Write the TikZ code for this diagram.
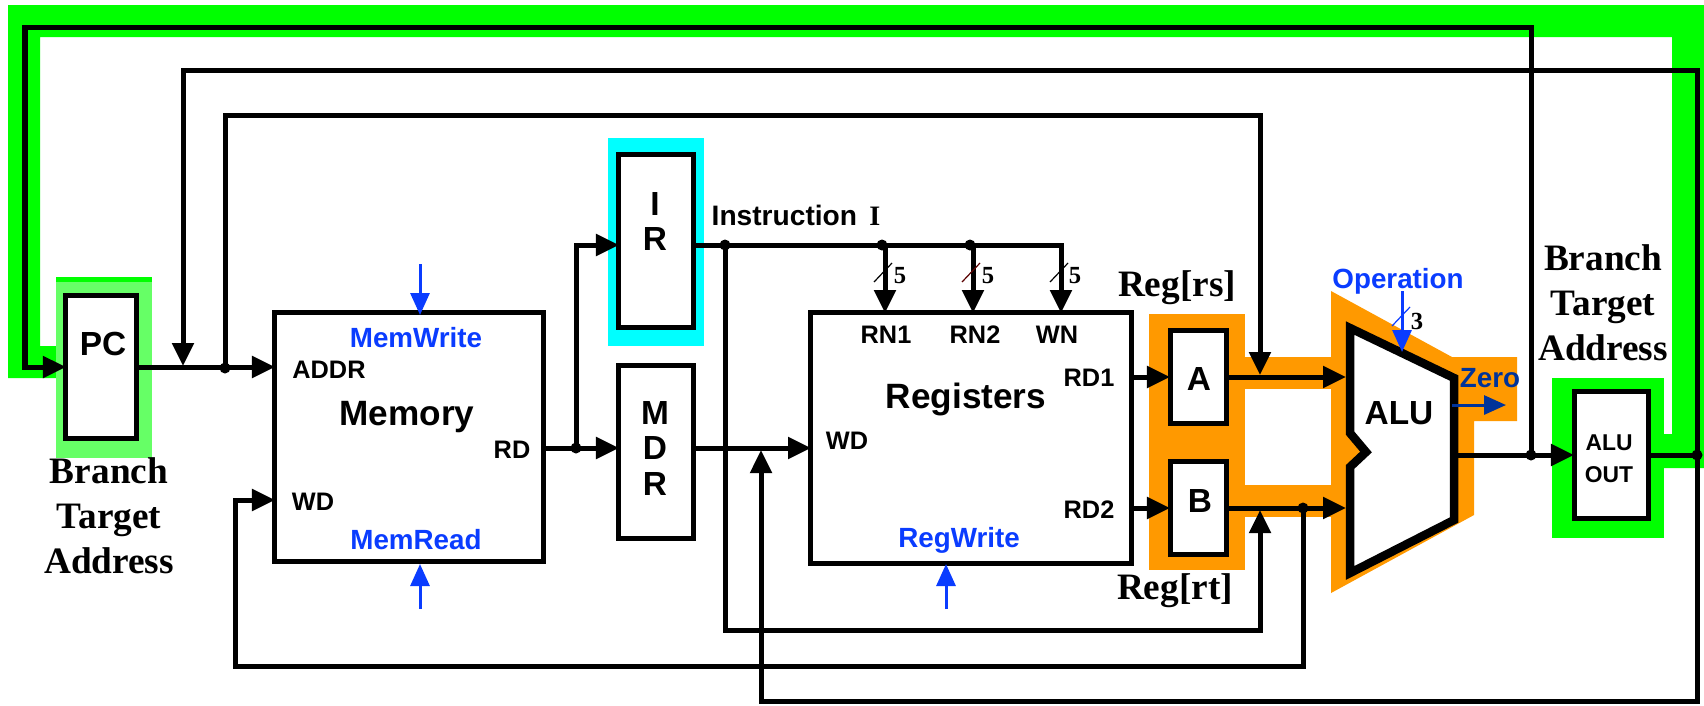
\documentclass[tikz,border=0pt]{standalone}
\usepackage{fontspec}
\setmainfont{Liberation Sans}
\newfontfamily\timesfont{Liberation Serif}
\usetikzlibrary{arrows.meta}
\definecolor{mygreen}{RGB}{0,255,0}
\definecolor{mylight}{RGB}{102,255,102}
\definecolor{mycyan}{RGB}{0,255,255}
\definecolor{myorange}{RGB}{255,153,0}
\definecolor{myblue}{RGB}{10,60,255}
\definecolor{mynavy}{RGB}{0,51,153}
\definecolor{myred}{RGB}{90,0,0}
\tikzset{
  wire/.style={line width=0.05cm, line join=miter},
  tip/.style={-{Triangle[length=0.23cm,width=0.21cm]}},
  ctl/.style={line width=0.03cm, color=myblue, -{Triangle[length=0.22cm,width=0.19cm]}},
  latch/.style={draw, fill=white, line width=0.05cm, outer sep=0pt, inner sep=0pt},
  dot/.style={circle, fill=black, inner sep=0pt, minimum size=0.11cm},
  port/.style={inner sep=0pt, font=\bfseries\fontsize{7.2}{8}\selectfont},
  unit/.style={inner sep=0pt, font=\bfseries\fontsize{10}{11}\selectfont},
  letter/.style={inner sep=0pt, font=\bfseries\fontsize{9.5}{10}\selectfont},
  signal/.style={inner sep=0pt, text=myblue, font=\bfseries\fontsize{7.9}{9}\selectfont},
  note/.style={inner sep=0pt, align=center, font=\timesfont\bfseries\fontsize{10.6}{12.8}\selectfont},
  width/.style={inner sep=0pt, font=\timesfont\fontsize{7}{8}\selectfont}
}

\begin{document}
\begin{tikzpicture}[x=0.01cm,y=-0.01cm]
\path[use as bounding box, fill=white] (0,0) rectangle (1704,705);

\fill[color=mygreen] (8,5) -- (1704,5) -- (1704,468) -- (1552,468) -- (1552,434) -- (1672,434) -- (1672,37) -- (40,37) -- (40,346) -- (60,346) -- (60,378) -- (8,378) -- cycle;
\fill[color=mylight] (56,277) rectangle +(96,181);
\fill[color=mygreen] (56,277) rectangle +(96,5);
\fill[color=mygreen] (1552,378) rectangle +(112,160);
\fill[color=mycyan] (608,138) rectangle +(96,208);
\fill[color=myorange] (1149,314) rectangle +(96,256);
\fill[color=myorange] (1244,357) rectangle +(90,32);
\fill[color=myorange] (1244,485) rectangle +(90,32);
\fill[color=myorange] (1331,291) -- (1452,357) -- (1517,357) -- (1517,421) -- (1474,421) -- (1474,515) -- (1331,593) -- cycle;

\node[latch, minimum width=0.70cm, minimum height=1.42cm] (PC) at (101,367) {};
\node[latch, minimum width=2.68cm, minimum height=2.48cm] (Memory) at (409,437) {};
\node[latch, minimum width=0.75cm, minimum height=1.72cm] (IR) at (656,241) {};
\node[latch, minimum width=0.75cm, minimum height=1.73cm] (MDR) at (656,452) {};
\node[latch, minimum width=3.21cm, minimum height=2.50cm] (Registers) at (971,438) {};
\node[latch, minimum width=0.56cm, minimum height=0.92cm] (A) at (1198,377) {};
\node[latch, minimum width=0.56cm, minimum height=0.92cm] (B) at (1198,508) {};
\node[latch, minimum width=0.74cm, minimum height=1.26cm] (ALUOUT) at (1611,455) {};
\draw[latch, line width=0.085cm, line join=miter] (1350,328) -- (1454,378) -- (1454,520) -- (1350,573) -- (1350,467) -- (1366,452) -- (1350,433) -- cycle;

\node[dot] (jpc) at (225,368) {};
\node[dot] (jsplit) at (576,448) {};
\node[dot] (jins) at (725,245) {};
\node[dot] (jrnone) at (882,245) {};
\node[dot] (jrntwo) at (970,245) {};
\node[dot] (jb) at (1303,508) {};
\node[dot] (jalu) at (1531,455) {};
\node[dot] (jout) at (1697,455) {};

\coordinate (ctop) at (25,27);
\coordinate (cmid) at (183,70);
\coordinate (cpcin) at (183,366);
\coordinate (cabove) at (1260,115);
\coordinate (cain) at (1260,375);
\coordinate (cblow) at (1260,630);
\coordinate (cbin) at (1260,510);
\coordinate (cwd) at (235,666);
\coordinate (memaddr) at (275,367);
\coordinate (memwd) at (275,500);
\coordinate (memrd) at (543,448);
\coordinate (mdrin) at (619,448);
\coordinate (mdrout) at (694,448);
\coordinate (irin) at (619,245);
\coordinate (irout) at (694,245);
\coordinate (regwd) at (811,448);
\coordinate (rnone) at (885,313);
\coordinate (rntwo) at (973,313);
\coordinate (wnin) at (1061,313);
\coordinate (rdone) at (1132,377);
\coordinate (rdtwo) at (1132,508);
\coordinate (alua) at (1346,377);
\coordinate (alub) at (1346,508);
\coordinate (aluy) at (1454,455);
\coordinate (cbottom) at (761,701);
\coordinate (wdup) at (761,450);

\draw[wire, tip] (jalu.center) |- (ctop) |- (PC.west);
\draw[wire, tip] (jout.center) |- (cmid) -- (cpcin);
\draw[wire, tip] (PC.east) -- (memaddr);
\draw[wire, tip] (jpc.center) |- (cabove) -- (cain);
\draw[wire, tip] (jb.center) |- (cwd) |- (memwd);
\draw[wire, tip] (memrd) -- (mdrin);
\draw[wire, tip] (jsplit.center) |- (irin);
\draw[wire, tip] (mdrout) -- (regwd);
\draw[wire, tip] (irout) -| (wnin);
\draw[wire, tip] (jrnone.center) ++(3,0) -- (rnone);
\draw[wire, tip] (jrntwo.center) ++(3,0) -- (rntwo);
\draw[wire, tip] (jins.center) |- (cblow) -- (cbin);
\draw[wire, tip] (rdone) -- (A.west);
\draw[wire, tip] (rdtwo) -- (B.west);
\draw[wire, tip] (A.east) -- (alua);
\draw[wire, tip] (B.east) -- (alub);
\draw[wire, tip] (aluy) -- (ALUOUT.west);
\draw[wire] (ALUOUT.east) -- (jout.center);
\draw[wire, tip] (jout.center) |- (cbottom) -- (wdup);

\draw[ctl] (420,264) -- (420,315);
\draw[ctl] (420,609) -- (420,564);
\draw[ctl] (946,609) -- (946,564);
\draw[ctl] (1402,291) -- (1402,352);
\draw[ctl, color=mynavy] (1452,405) -- (1506,405);

\foreach \x/\c in {885/black, 973/myred, 1061/black}
  \draw[color=\c, line width=0.012cm] (\x-11,282) -- (\x+7,263);
\draw[color=myblue, line width=0.012cm] (1392,326) -- (1410,307);

\node[width] (wone) at (900,276) {\bfseries 5};
\node[width] (wtwo) at (988,276) {\bfseries 5};
\node[width] (wthree) at (1075,276) {\bfseries 5};
\node[width] (wop) at (1417,321) {\bfseries 3};

\node[letter] (tPC) at (103,344) {PC};
\node[letter] (tI) at (655,204) {I};
\node[letter] (tR) at (655,239) {R};
\node[letter] (tM) at (655,413) {M};
\node[letter] (tD) at (655,448) {D};
\node[letter] (tRR) at (655,484) {R};
\node[letter] (tA) at (1199,379) {A};
\node[letter] (tB) at (1200,501) {B};
\node[letter] (tALU) at (1399,413) {ALU};
\node[unit] (tMemory) at (407,417) {Memory};
\node[unit] (tRegisters) at (966,399) {Registers};

\node[port] (pADDR) at (329,370) {ADDR};
\node[port] (pWD) at (313,502) {WD};
\node[port] (pRD) at (512,450) {RD};
\node[port] (pRN1) at (886,335) {RN1};
\node[port] (pRN2) at (975,335) {RN2};
\node[port] (pWN) at (1057,335) {WN};
\node[port] (pRD1) at (1089,378) {RD1};
\node[port] (pRD2) at (1089,510) {RD2};
\node[port] (pRWD) at (847,441) {WD};
\node[port, font=\bfseries\fontsize{6.5}{7.6}\selectfont, align=center] (pOUT) at (1609,459) {ALU\\[1.5pt]OUT};

\node[signal] (sMW) at (416,338) {MemWrite};
\node[signal] (sMR) at (416,540) {MemRead};
\node[signal] (sRW) at (959,540) {RegWrite};
\node[signal] (sOp) at (1398,281) {Operation};
\node[signal, text=mynavy] (sZ) at (1490,378) {Zero};

\node[inner sep=0pt, anchor=west, font=\bfseries\fontsize{8}{9}\selectfont] (tIns) at (711,215) {Instruction\hspace{3.5pt}{\timesfont I}};
\node[note] (nleft) at (109,516) {Branch\\Target\\Address};
\node[note] (nright) at (1603,303) {Branch\\Target\\Address};
\node[note] (nrs) at (1177,288) {Reg[rs]};
\node[note] (nrt) at (1175,591) {Reg[rt]};
\end{tikzpicture}
\end{document}
